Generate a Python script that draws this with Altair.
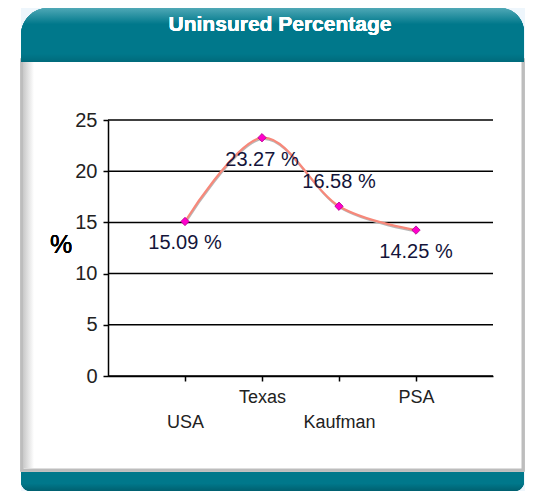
import altair as alt
import pandas as pd

regions = ["USA", "Texas", "Kaufman", "PSA"]
uninsured_pct = [15.09, 23.27, 16.58, 14.25]
labels_above = ["Kaufman"]
lower_tier_labels = ["USA", "Kaufman"]
y_ticks = [0, 5, 10, 15, 20, 25]
title_text = "Uninsured Percentage"

df = pd.DataFrame({"region": regions, "pct": uninsured_pct})
df["label"] = [f"{v:.2f} %" for v in uninsured_pct]
grid_df = pd.DataFrame({"pct": y_ticks})

FONT = "Liberation Sans"
TEAL = "#00788b"

W, H = 385, 256

lower_expr = "indexof([" + ",".join(f"'{r}'" for r in lower_tier_labels) + "], datum.value) >= 0 ? ['', datum.value] : datum.value"

x_enc = alt.X("region:N", sort=regions, scale=alt.Scale(type="point", padding=1),
              axis=alt.Axis(title=None, labelAngle=0, labelFont=FONT, labelFontSize=18,
                            labelColor="#222222", labelExpr=lower_expr, labelLineHeight=25,
                            labelPadding=7, labelBaseline="top", zindex=1,
                            domainColor="black", domainWidth=1.5, tickColor="black",
                            tickSize=5, tickWidth=1.5, grid=False))
y_enc = alt.Y("pct:Q", scale=alt.Scale(domain=[0, 25], nice=False),
              axis=alt.Axis(title=None, values=y_ticks, labelFont=FONT, labelFontSize=20,
                            labelColor="#222222", domainColor="black", domainWidth=1.5,
                            tickColor="black", tickSize=5, tickWidth=1.5, labelPadding=6,
                            zindex=1, grid=False))

base = alt.Chart(df)

# decorations (page frame)
frame_bg = base.mark_rect(fill="#eef6fc").encode(
    x=alt.value(-87), x2=alt.value(417), y=alt.value(-112), y2=alt.value(377))
body = base.mark_rect(fill="white", stroke="#bdbdbd", strokeWidth=3).encode(
    x=alt.value(-86), x2=alt.value(415), y=alt.value(-60), y2=alt.value(350))
body_shade = base.mark_rect(
    fill=alt.LinearGradient(gradient="linear", x1=0, x2=1, y1=0, y2=0,
                            stops=[alt.GradientStop(color="#c8c8c8", offset=0),
                                   alt.GradientStop(color="#ffffff", offset=1)])).encode(
    x=alt.value(-85), x2=alt.value(-74), y=alt.value(-58), y2=alt.value(348))
header = base.mark_rect(
    cornerRadiusTopLeft=28, cornerRadiusTopRight=24,
    fill=alt.LinearGradient(gradient="linear", x1=0, x2=0, y1=0, y2=1,
                            stops=[alt.GradientStop(color="#4fa8b6", offset=0),
                                   alt.GradientStop(color=TEAL, offset=0.3),
                                   alt.GradientStop(color="#00788b", offset=0.85),
                                   alt.GradientStop(color="#006a7b", offset=1)])).encode(
    x=alt.value(-87), x2=alt.value(416), y=alt.value(-112), y2=alt.value(-58))
footer = base.mark_rect(
    cornerRadiusBottomLeft=20, cornerRadiusBottomRight=20,
    fill=alt.LinearGradient(gradient="linear", x1=0, x2=0, y1=0, y2=1,
                            stops=[alt.GradientStop(color=TEAL, offset=0),
                                   alt.GradientStop(color="#00788b", offset=0.6),
                                   alt.GradientStop(color="#006070", offset=1)])).encode(
    x=alt.value(-87), x2=alt.value(416), y=alt.value(352), y2=alt.value(371))
title = base.mark_text(font=FONT, fontSize=21, fontWeight="bold", color="white").encode(
    x=alt.value(172), y=alt.value(-95), text=alt.value(title_text))
pct_label = base.mark_text(font=FONT, fontSize=25, color="black").encode(
    x=alt.value(-47), y=alt.value(125), text=alt.value("%"))

grid = alt.Chart(grid_df).mark_rule(color="black", strokeWidth=1.5).encode(
    y="pct:Q", x=alt.value(0), x2=alt.value(W))

# data layers
axes = base.mark_point(opacity=0).encode(x=x_enc, y=y_enc)
shadow = base.mark_line(interpolate="cardinal", color="#b8b8b8", strokeWidth=1.5,
                        xOffset=0.5, yOffset=1.5).encode(
    x=alt.X("region:N", sort=regions), y="pct:Q")
line = base.mark_line(interpolate="cardinal", color="#f7887a", strokeWidth=2.2).encode(
    x=alt.X("region:N", sort=regions), y="pct:Q")
points = base.mark_point(shape="diamond", filled=True, size=70, color="#ff00cc",
                         stroke="#b0008a", strokeWidth=0.8, opacity=1).encode(
    x=alt.X("region:N", sort=regions), y="pct:Q")
txt_below = base.mark_text(font=FONT, fontSize=20, color="#14143a", dy=22).encode(
    x=alt.X("region:N", sort=regions), y="pct:Q", text="label:N"
).transform_filter(~alt.FieldOneOfPredicate(field="region", oneOf=labels_above))
txt_above = base.mark_text(font=FONT, fontSize=20, color="#14143a", dy=-24).encode(
    x=alt.X("region:N", sort=regions), y="pct:Q", text="label:N"
).transform_filter(alt.FieldOneOfPredicate(field="region", oneOf=labels_above))

chart = alt.layer(frame_bg, body, body_shade, header, footer, title, pct_label,
                  grid, axes, shadow, line, points, txt_below, txt_above).properties(
    width=W, height=H,
    autosize=alt.AutoSizeParams(type="none"),
    padding={"left": 100, "top": 112, "right": 32, "bottom": 115},
    background="white",
).configure_view(stroke=None)

chart.save("out.html", embed_options={"renderer": "svg", "actions": False})
